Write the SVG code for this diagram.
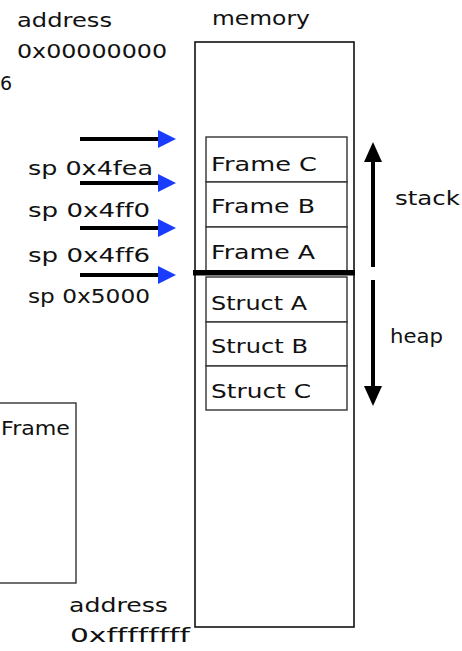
<svg xmlns="http://www.w3.org/2000/svg" width="462" height="651" viewBox="0 0 462 651">
  <style>
    text { font-family: "DejaVu Sans", "Noto Sans", sans-serif; font-size: 19px; fill: #111; font-variant-ligatures: none; }
    .mem { fill: #fff; stroke: #111; stroke-width: 1.6; }
    .cell { fill: #fff; stroke: #333; stroke-width: 1.4; }
    .sp { stroke: #000; stroke-width: 4; }
    .dir { stroke: #000; stroke-width: 4; }
  </style>
  <defs>
    <marker id="blueHead" viewBox="0 0 18 18" refX="0" refY="9" markerWidth="18" markerHeight="18" markerUnits="userSpaceOnUse" orient="auto">
      <path d="M0,0 L18,9 L0,18 Z" fill="#1a3cff"/>
    </marker>
    <marker id="blackHead" viewBox="0 0 20 18" refX="0" refY="9" markerWidth="20" markerHeight="18" markerUnits="userSpaceOnUse" orient="auto">
      <path d="M0,0 L20,9 L0,18 Z" fill="#000"/>
    </marker>
  </defs>

  <!-- address labels -->
  <g id="addr-top">
    <text x="17" y="27" textLength="95" lengthAdjust="spacingAndGlyphs">address</text>
    <text x="17" y="58" textLength="150" lengthAdjust="spacingAndGlyphs">0x00000000</text>
  </g>
  <text x="0" y="90">6</text>

  <!-- memory column -->
  <g id="memory">
    <text x="212" y="25" textLength="98" lengthAdjust="spacingAndGlyphs">memory</text>
    <rect class="mem" x="195" y="42" width="159" height="585"/>
  </g>

  <!-- stack frames -->
  <g id="frame-c">
    <rect class="cell" x="206" y="137" width="141" height="45"/>
    <text x="211" y="171" textLength="106" lengthAdjust="spacingAndGlyphs">Frame C</text>
  </g>
  <g id="frame-b">
    <rect class="cell" x="206" y="182" width="141" height="45"/>
    <text x="211" y="213" textLength="104" lengthAdjust="spacingAndGlyphs">Frame B</text>
  </g>
  <g id="frame-a">
    <rect class="cell" x="206" y="227" width="141" height="45"/>
    <text x="211" y="259" textLength="104" lengthAdjust="spacingAndGlyphs">Frame A</text>
  </g>

  <!-- heap structs -->
  <g id="struct-a">
    <rect class="cell" x="206" y="277" width="141" height="45"/>
    <text x="211" y="310" textLength="96" lengthAdjust="spacingAndGlyphs">Struct A</text>
  </g>
  <g id="struct-b">
    <rect class="cell" x="206" y="322" width="141" height="44"/>
    <text x="211" y="353" textLength="97" lengthAdjust="spacingAndGlyphs">Struct B</text>
  </g>
  <g id="struct-c">
    <rect class="cell" x="206" y="366" width="141" height="44"/>
    <text x="211" y="398" textLength="100" lengthAdjust="spacingAndGlyphs">Struct C</text>
  </g>

  <!-- stack / heap boundary -->
  <rect id="boundary" x="193" y="270" width="162" height="5.5" fill="#000"/>

  <!-- side labels -->
  <g id="label-stack"><text x="395" y="205" textLength="65" lengthAdjust="spacingAndGlyphs">stack</text></g>
  <g id="label-heap"><text x="390" y="343" textLength="53" lengthAdjust="spacingAndGlyphs">heap</text></g>

  <!-- stack pointer labels -->
  <g id="sp-labels">
    <text x="28" y="175" textLength="125" lengthAdjust="spacingAndGlyphs">sp 0x4fea</text>
    <text x="28" y="217" textLength="122" lengthAdjust="spacingAndGlyphs">sp 0x4ff0</text>
    <text x="28" y="262" textLength="122" lengthAdjust="spacingAndGlyphs">sp 0x4ff6</text>
    <text x="28" y="303" textLength="122" lengthAdjust="spacingAndGlyphs">sp 0x5000</text>
  </g>

  <!-- lower-left frame box -->
  <g id="frame-side">
    <rect class="cell" x="-10" y="403" width="86" height="180"/>
    <text x="1" y="435" textLength="69" lengthAdjust="spacingAndGlyphs">Frame</text>
  </g>

  <!-- bottom address -->
  <g id="addr-bottom">
    <text x="69" y="612" textLength="99" lengthAdjust="spacingAndGlyphs">address</text>
    <text x="70" y="642" textLength="120" lengthAdjust="spacingAndGlyphs">0xffffffff</text>
  </g>

  <!-- connectors -->
  <g id="connectors">
    <line class="sp" x1="80" y1="139" x2="158" y2="139" marker-end="url(#blueHead)"/>
    <line class="sp" x1="80" y1="183" x2="158" y2="183" marker-end="url(#blueHead)"/>
    <line class="sp" x1="80" y1="228" x2="158" y2="228" marker-end="url(#blueHead)"/>
    <line class="sp" x1="80" y1="275" x2="158" y2="275" marker-end="url(#blueHead)"/>
    <line class="dir" x1="373" y1="267" x2="373" y2="162" marker-end="url(#blackHead)"/>
    <line class="dir" x1="373" y1="280" x2="373" y2="386" marker-end="url(#blackHead)"/>
  </g>
</svg>
